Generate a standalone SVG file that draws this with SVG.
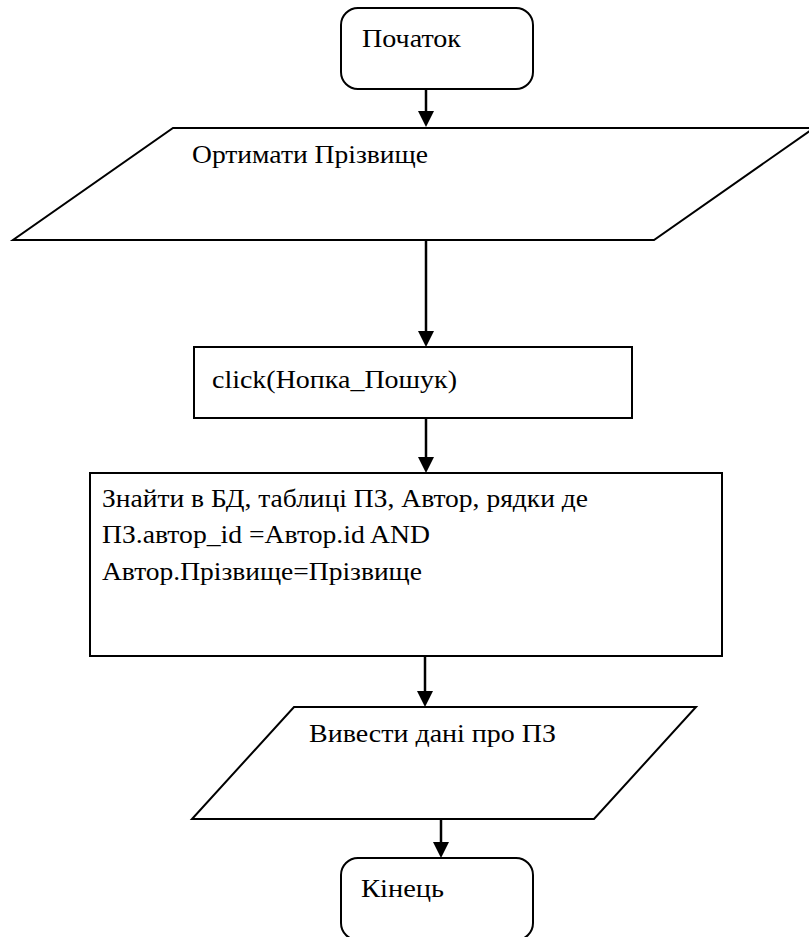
<svg xmlns="http://www.w3.org/2000/svg" width="809" height="937" viewBox="0 0 809 937">
<style>
  .shape { fill: #ffffff; stroke: #000000; stroke-width: 2; }
  .conn line { stroke: #000000; stroke-width: 2.5; }
  text { font-family: 'Times New Roman', 'Liberation Serif', Tinos, 'DejaVu Serif', serif; font-size: 26px; fill: #000000; }
</style>
<defs>
  <marker id="arrow" markerUnits="userSpaceOnUse" markerWidth="16" markerHeight="16" refX="8" refY="8" orient="auto" viewBox="0 0 16 16">
    <path d="M0,0 L16,8 L0,16 z" fill="#000000"/>
  </marker>
</defs>
<rect width="809" height="937" fill="#ffffff"/>
<g id="start">
  <rect class="shape" x="341" y="8" width="192" height="81" rx="17" ry="17"/>
  <text x="362" y="47" textLength="99" lengthAdjust="spacingAndGlyphs">Початок</text>
</g>
<g id="input">
  <polygon class="shape" points="173,128 814,128 654,240 13,240"/>
  <text x="192" y="163" textLength="236" lengthAdjust="spacingAndGlyphs">Ортимати Прізвище</text>
</g>
<g id="click">
  <rect class="shape" x="194" y="347" width="438" height="71"/>
  <text x="212" y="388" textLength="245" lengthAdjust="spacingAndGlyphs">click(Нопка_Пошук)</text>
</g>
<g id="query">
  <rect class="shape" x="90" y="473" width="632" height="183"/>
  <text x="102" y="507" textLength="486" lengthAdjust="spacingAndGlyphs">Знайти в БД, таблиці ПЗ, Автор, рядки де</text>
  <text x="102" y="543" textLength="328" lengthAdjust="spacingAndGlyphs">ПЗ.автор_id =Автор.id AND</text>
  <text x="102" y="580" textLength="320" lengthAdjust="spacingAndGlyphs">Автор.Прізвище=Прізвище</text>
</g>
<g id="output">
  <polygon class="shape" points="294,707 696,707 594,819 192,819"/>
  <text x="309" y="742" textLength="247" lengthAdjust="spacingAndGlyphs">Вивести дані про ПЗ</text>
</g>
<g id="end">
  <rect class="shape" x="341" y="858" width="192" height="82" rx="17" ry="17"/>
  <text x="361" y="897" textLength="83" lengthAdjust="spacingAndGlyphs">Кінець</text>
</g>
<g id="connectors" class="conn">
  <line x1="426" y1="89" x2="426" y2="119" marker-end="url(#arrow)"/>
  <line x1="426" y1="240" x2="426" y2="339" marker-end="url(#arrow)"/>
  <line x1="426" y1="418" x2="426" y2="465" marker-end="url(#arrow)"/>
  <line x1="425" y1="656" x2="425" y2="699" marker-end="url(#arrow)"/>
  <line x1="441" y1="819" x2="441" y2="850" marker-end="url(#arrow)"/>
</g>
</svg>
